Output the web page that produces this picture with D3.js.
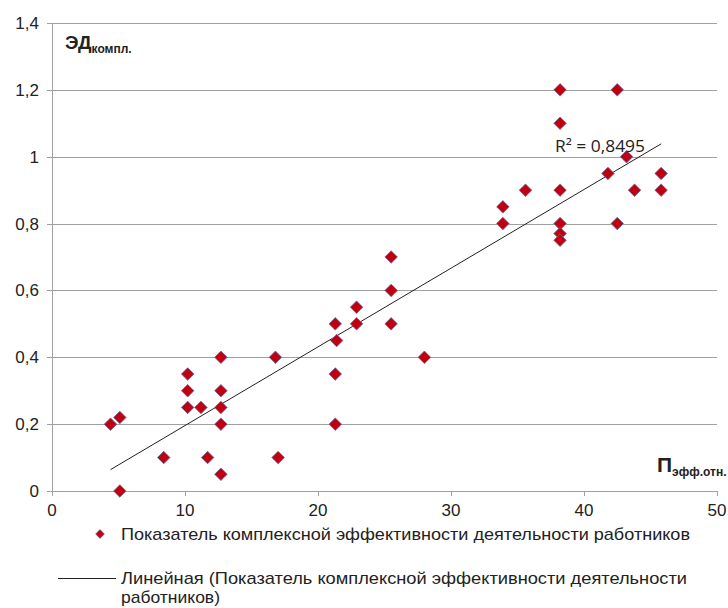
<!DOCTYPE html>
<html>
<head>
<meta charset="utf-8">
<script src="https://cdn.jsdelivr.net/npm/d3@7"></script>
<style>
  body { margin: 0; background: #fff; }
  text { font-family: "Liberation Sans Narrow", "Arial Narrow", "Liberation Sans", Arial, sans-serif; fill: #222; }
  .title { font-family: "Liberation Sans", Arial, sans-serif; }
</style>
</head>
<body>
<script>
const W = 728;
const H = 608;

// values
const effX = [4.4, 5.1, 5.1, 8.4, 10.2, 10.2, 10.2, 11.2, 11.7, 12.7, 12.7, 12.7, 12.7, 12.7,
  16.8, 17.0, 21.3, 21.3, 21.3, 21.4, 22.9, 22.9, 25.5, 25.5, 25.5, 28.0,
  33.9, 33.9, 35.6, 38.2, 38.2, 38.2, 38.2, 38.2, 38.2, 42.5, 41.8, 43.2, 43.8, 42.5, 45.8, 45.8];
const effY = [0.2, 0.22, 0, 0.1, 0.35, 0.3, 0.25, 0.25, 0.1, 0.4, 0.3, 0.25, 0.2, 0.05,
  0.4, 0.1, 0.5, 0.35, 0.2, 0.45, 0.55, 0.5, 0.7, 0.6, 0.5, 0.4,
  0.85, 0.8, 0.9, 1.2, 1.1, 0.9, 0.8, 0.77, 0.75, 1.2, 0.95, 1.0, 0.9, 0.8, 0.95, 0.9];
const xTicks = [0, 10, 20, 30, 40, 50];
const yTicks = [0, 0.2, 0.4, 0.6, 0.8, 1, 1.2, 1.4];
const r2Label = 'R² = 0,8495';
const seriesName = 'Показатель комплексной эффективности деятельности работников';
const trendName1 = 'Линейная (Показатель комплексной эффективности деятельности';
const trendName2 = 'работников)';

const points = effX.map((v, i) => ({x: v, y: effY[i]}));

const x = d3.scaleLinear().domain([0, 50]).range([52, 717]);
const y = d3.scaleLinear().domain([0, 1.4]).range([491, 23]);

const svg = d3.select('body').append('svg')
  .attr('width', W)
  .attr('height', H);

// gridlines
svg.selectAll('line.grid')
  .data(yTicks)
  .enter().append('line')
    .attr('class', 'grid')
    .attr('x1', x(0) - 5)
    .attr('x2', x(50))
    .attr('y1', d => Math.round(y(d)) + 0.5)
    .attr('y2', d => Math.round(y(d)) + 0.5)
    .style('stroke', '#a0a0a0')
    .style('stroke-width', 1);

// y axis line
svg.append('line')
  .attr('x1', x(0) + 0.5).attr('x2', x(0) + 0.5)
  .attr('y1', y(1.4)).attr('y2', y(0))
  .style('stroke', '#a0a0a0');

// x ticks
svg.selectAll('line.xtick')
  .data(xTicks)
  .enter().append('line')
    .attr('x1', d => Math.round(x(d)) + 0.5)
    .attr('x2', d => Math.round(x(d)) + 0.5)
    .attr('y1', y(0))
    .attr('y2', y(0) + 5)
    .style('stroke', '#a0a0a0');

svg.selectAll('text.ylab')
  .data(yTicks)
  .enter().append('text')
    .attr('x', 39)
    .attr('y', d => y(d) + 6)
    .attr('text-anchor', 'end')
    .style('font-size', '17px')
    .text(d => d3.format('.1f')(d).replace('.0', '').replace('.', ','));

svg.selectAll('text.xlab')
  .data(xTicks)
  .enter().append('text')
    .attr('x', d => x(d))
    .attr('y', 516)
    .attr('text-anchor', 'middle')
    .style('font-size', '17px')
    .text(d => d);

// linear trend (least squares)
const mx = d3.mean(points, d => d.x);
const my = d3.mean(points, d => d.y);
const slope = d3.sum(points, d => (d.x - mx) * (d.y - my)) / d3.sum(points, d => (d.x - mx) ** 2);
const icpt = my - slope * mx;
const [x0, x1] = d3.extent(points, d => d.x);

svg.append('line')
  .attr('x1', x(x0)).attr('y1', y(icpt + slope * x0))
  .attr('x2', x(x1)).attr('y2', y(icpt + slope * x1))
  .style('stroke', '#222')
  .style('stroke-width', 1);

const diamond = d3.symbol().type(d3.symbolDiamond2).size(100);

svg.selectAll('path.pt')
  .data(points)
  .enter().append('path')
    .attr('class', 'pt')
    .attr('transform', d => `translate(${x(d.x)},${y(d.y)})`)
    .attr('d', diamond)
    .style('fill', '#c00010')
    .style('stroke', '#6a6a9a')
    .style('stroke-width', 0.8);

svg.append('text')
  .attr('x', 555)
  .attr('y', 152)
  .style('font-size', '16px')
  .style('font-family', '"Open Sans", sans-serif')
  .attr('textLength', 90)
  .attr('lengthAdjust', 'spacingAndGlyphs')
  .text(r2Label);

// axis titles
const yt = svg.append('text').attr('class', 'title').attr('x', 65).attr('y', 49).style('font-weight', 'bold');
yt.append('tspan').style('font-size', '19px').text('ЭД');
yt.append('tspan').attr('dy', 4).style('font-size', '12px').text('компл.');

const xt = svg.append('text').attr('class', 'title').attr('x', 657).attr('y', 472).style('font-weight', 'bold');
xt.append('tspan').style('font-size', '21px').text('П');
xt.append('tspan').attr('dy', 4).style('font-size', '12px').text('эфф.отн.');

// legend
svg.append('path')
  .attr('transform', 'translate(100,534)')
  .attr('d', d3.symbol().type(d3.symbolDiamond2).size(50))
  .style('fill', '#c00010')
  .style('stroke', '#6a6a9a')
  .style('stroke-width', 0.6);

svg.append('text')
  .attr('x', 121).attr('y', 540)
  .style('font-size', '17px')
  .attr('textLength', 569)
  .attr('lengthAdjust', 'spacingAndGlyphs')
  .text(seriesName);

svg.append('line')
  .attr('x1', 58).attr('x2', 116)
  .attr('y1', 578.5).attr('y2', 578.5)
  .style('stroke', '#222');

svg.append('text')
  .attr('x', 121).attr('y', 584)
  .style('font-size', '17px')
  .attr('textLength', 566)
  .attr('lengthAdjust', 'spacingAndGlyphs')
  .text(trendName1);

svg.append('text')
  .attr('x', 121).attr('y', 603)
  .style('font-size', '17px')
  .attr('textLength', 99)
  .attr('lengthAdjust', 'spacingAndGlyphs')
  .text(trendName2);
</script>
</body>
</html>
